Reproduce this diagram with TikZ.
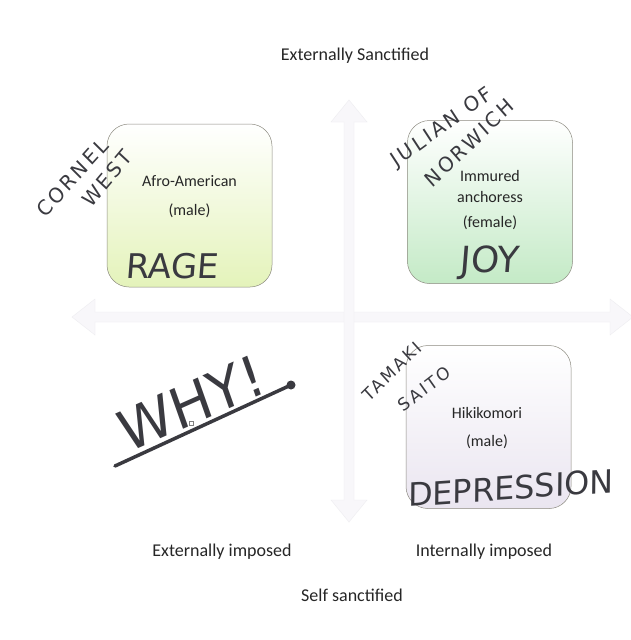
\documentclass[tikz,border=0pt]{standalone}
\usepackage{fontspec}
\setmainfont{Carlito}
\newfontfamily\hand{DejaVu Sans}[FakeSlant=0.08]
\newfontfamily\handw{DejaVu Sans}[FakeSlant=0.05, LetterSpace=14]
\definecolor{ink}{HTML}{3A3A40}
\definecolor{axisfill}{HTML}{F8F7FA}
\definecolor{axisline}{HTML}{EEEDF1}
\definecolor{boxline}{HTML}{8C8A80}
\tikzset{
  quad/.style={draw=boxline, line width=0.5pt, rounded corners=22pt, minimum width=165pt, minimum height=163pt, inner sep=0pt},
  lbl/.style={font=\fontsize{18}{20}\selectfont, text=black!85},
  boxtxt/.style={font=\fontsize{16}{21}\selectfont, text=black!85, align=center},
  hw/.style={text=ink, inner sep=0pt},
}
\begin{document}
\begin{tikzpicture}[x=1pt,y=-1pt]
\useasboundingbox[fill=white] (0,0) rectangle (631,640);
% axes
\fill[axisfill, draw=axisline, line width=0.4pt] (72,317) -- (95,299) -- (95,312) -- (610,312) -- (610,299) -- (633,317) -- (610,335) -- (610,322) -- (95,322) -- (95,335) -- cycle;
\fill[axisfill, draw=axisline, line width=0.4pt] (349,100) -- (367,122) -- (354,122) -- (354,500) -- (367,500) -- (349,522) -- (331,500) -- (344,500) -- (344,122) -- (331,122) -- cycle;
% boxes
\node[quad, top color=white, bottom color={rgb,255:red,228;green,243;blue,186}] (q1) at (189.5,205.5) {};
\node[quad, top color=white, bottom color={rgb,255:red,196;green,234;blue,198}] (q2) at (490,202) {};
\node[quad, top color=white, bottom color={rgb,255:red,234;green,229;blue,240}] (q3) at (488.5,427) {};
% box texts
\node[boxtxt] (t1) at (189.5,181) {Afro-American};
\node[boxtxt] (t1b) at (189.5,211) {(male)};
\node[boxtxt] (t2) at (490,187) {Immured\\anchoress};
\node[boxtxt] (t2b) at (490,223) {(female)};
\node[boxtxt] (t3) at (487,413) {Hikikomori};
\node[boxtxt] (t3b) at (487,442) {(male)};
% axis labels
\node[lbl] (top) at (355,56) {Externally Sanctified};
\node[lbl] (ext) at (222,552) {Externally imposed};
\node[lbl] (int) at (484,552) {Internally imposed};
\node[lbl] (self) at (352,595) {Self sanctified};
% handwriting
\node[hw, font=\hand\fontsize{34}{34}\selectfont] (rage) at (172,266) {RAGE};
\node[hw, font=\hand\fontsize{36}{36}\selectfont] (joy) at (489,263) {JOY};
\node[hw, font=\hand\fontsize{32}{32}\selectfont, rotate=4] (dep) at (510,488) {DEPRESSION};
\node[hw, font=\handw\fontsize{20}{20}\selectfont, rotate=48] (corn) at (72,178) {CORNEL};
\node[hw, font=\handw\fontsize{20}{20}\selectfont, rotate=50] (west) at (107,179) {WEST};
\node[hw, font=\handw\fontsize{20}{20}\selectfont, rotate=36] (jul) at (442,128) {JULIAN OF};
\node[hw, font=\handw\fontsize{20}{20}\selectfont, rotate=44] (nor) at (469,143) {NORWICH};
\node[hw, font=\handw\fontsize{17}{17}\selectfont, rotate=45] (tam) at (392,372) {TAMAKI};
\node[hw, font=\handw\fontsize{17}{17}\selectfont, rotate=38] (sai) at (424,389) {SAITO};
\node[hw, font=\hand\fontsize{56}{56}\selectfont, rotate=24] (why) at (190,404) {WHY!};
\coordinate (u1) at (115,466);
\coordinate (u2) at (291,385);
\draw[ink, line width=3.5pt, line cap=round] (u1) -- (u2);
\fill[ink] (u2) circle (4.5pt);
\node[draw=gray, fill=white, line width=0.5pt, minimum size=4pt, inner sep=0pt] (sq) at (191,423) {};
\end{tikzpicture}
\end{document}
